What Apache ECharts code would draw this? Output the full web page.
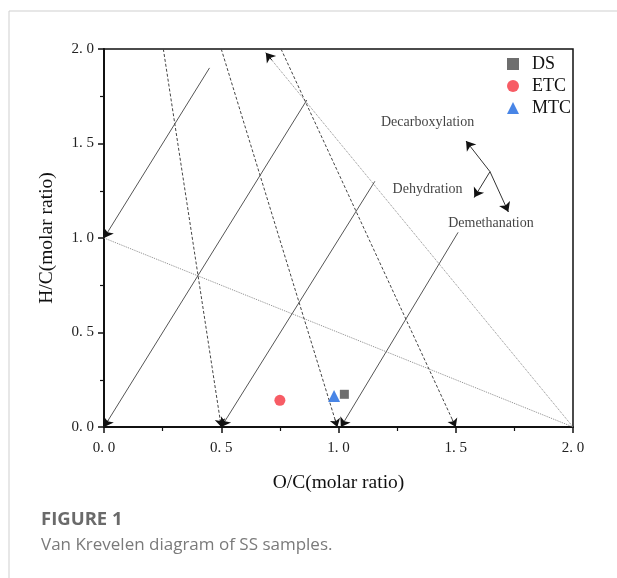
<!DOCTYPE html>
<html>
<head>
<meta charset="utf-8">
<script src="https://cdn.jsdelivr.net/npm/echarts@6/dist/echarts.min.js"></script>
<style>
  html, body { margin: 0; padding: 0; background: #fff; }
  #chart { width: 617px; height: 578px; }
</style>
</head>
<body>
<div id="chart"></div>
<script>
// 样品点 [O/C, H/C]
const dsPoints = [[1.025, 0.173]];
const etcPoints = [[0.75, 0.141]];
const mtcPoints = [[0.981, 0.164]];

// 脱水线（实线，斜率 2），[x1, y1, x2, y2]，终点带箭头
const dehydrationLines = [
  [0.45, 1.90, 0.0, 1.0],
  [0.865, 1.73, 0.0, 0.0],
  [1.155, 1.30, 0.5, 0.0],
  [1.51, 1.03, 1.01, 0.0]
];
// 脱甲烷线（虚线）
const demethanationLines = [
  [0.253, 2.0, 0.5, 0.0],
  [0.5, 2.0, 0.995, 0.0],
  [0.755, 2.0, 1.5, 0.0]
];
// 脱羧线（点线）
const decarbArrowLines = [[2.0, 0.0, 0.69, 1.98]];
const decarbPlainLines = [[0.0, 1.0, 2.0, 0.0]];

// 右上角示意箭头：中心点与三个方向
const insetCenter = [1.646, 1.351];
const insetTips = [[1.544, 1.513], [1.579, 1.215], [1.724, 1.139]];
const insetLabels = [
  ['Decarboxylation', 1.38, 1.61],
  ['Dehydration', 1.38, 1.26],
  ['Demethanation', 1.65, 1.08]
];

const axisTicks = [0, 0.5, 1.0, 1.5, 2.0];

const SERIF = '"Liberation Serif", "Times New Roman", serif';

function toMarkLine(list) {
  return list.map(l => [{ coord: [l[0], l[1]] }, { coord: [l[2], l[3]] }]);
}

// 箭头：沿线末端取一小段，单独用黑色画
function arrowHeads(list) {
  return list.map(l => [
    { coord: [l[2] + (l[0] - l[2]) * 0.02, l[3] + (l[1] - l[3]) * 0.02] },
    { coord: [l[2], l[3]] }
  ]);
}

function lineSeries(list, style) {
  return {
    type: 'line', data: [], silent: true,
    markLine: {
      silent: true, animation: false,
      symbol: ['none', 'none'],
      label: { show: false },
      emphasis: { disabled: true },
      lineStyle: style,
      data: toMarkLine(list)
    }
  };
}

function arrowSeries(list, size) {
  return {
    type: 'line', data: [], silent: true, z: 4,
    markLine: {
      silent: true, animation: false,
      symbol: ['none', 'arrow'], symbolSize: size,
      label: { show: false },
      emphasis: { disabled: true },
      lineStyle: { type: 'solid', color: '#111', width: 1 },
      data: arrowHeads(list)
    }
  };
}

const tickFmt = v => axisTicks.indexOf(v) >= 0 ? v.toFixed(1).replace('.', '. ') : '';
const insetLines = insetTips.map(t => [insetCenter[0], insetCenter[1], t[0], t[1]]);

const chart = echarts.init(document.getElementById('chart'));
chart.setOption({
  animation: false,
  grid: {
    left: 104, right: 44, top: 49, bottom: 151,
    show: true, borderColor: '#111', borderWidth: 1.5, backgroundColor: 'transparent'
  },
  xAxis: {
    type: 'value', min: 0, max: 2, interval: 0.5,
    name: 'O/C(molar ratio)', nameLocation: 'middle', nameGap: 46,
    nameTextStyle: { fontFamily: SERIF, fontSize: 19.5, color: '#111' },
    axisLine: { show: true, onZero: false, lineStyle: { color: '#111', width: 2 } },
    axisTick: { show: true, inside: false, length: 6, lineStyle: { color: '#111', width: 1.5 } },
    minorTick: { show: true, splitNumber: 2, length: 4, lineStyle: { color: '#111', width: 1.2 } },
    splitLine: { show: false },
    axisLabel: { margin: 14, fontFamily: SERIF, fontSize: 15, color: '#222', formatter: tickFmt }
  },
  yAxis: {
    type: 'value', min: 0, max: 2, interval: 0.5,
    name: 'H/C(molar ratio)', nameLocation: 'middle', nameGap: 47, nameRotate: 90,
    nameTextStyle: { fontFamily: SERIF, fontSize: 19.5, color: '#111' },
    axisLine: { show: true, onZero: false, lineStyle: { color: '#111', width: 2 } },
    axisTick: { show: true, inside: false, length: 6, lineStyle: { color: '#111', width: 1.5 } },
    minorTick: { show: true, splitNumber: 2, length: 4, lineStyle: { color: '#111', width: 1.2 } },
    splitLine: { show: false },
    axisLabel: { margin: 10, fontFamily: SERIF, fontSize: 15, color: '#222', formatter: tickFmt }
  },
  legend: {
    orient: 'vertical', left: 502, top: 50,
    itemWidth: 12, itemHeight: 12, itemGap: 4,
    textStyle: { fontFamily: SERIF, fontSize: 18, color: '#111', padding: [0, 0, 0, 8] },
    data: ['DS', 'ETC', 'MTC']
  },
  graphic: [
    { type: 'line', shape: { x1: 9, y1: 11, x2: 617, y2: 11 }, style: { stroke: '#cfcfcf', lineWidth: 1 } },
    { type: 'line', shape: { x1: 9, y1: 11, x2: 9, y2: 578 }, style: { stroke: '#cfcfcf', lineWidth: 1 } },
    { type: 'text', left: 41, top: 510, style: { text: 'FIGURE 1', fontFamily: '"Open Sans", sans-serif', fontWeight: 'bold', fontSize: 18.5, fill: '#6a6a6a' } },
    { type: 'text', left: 41, top: 537, style: { text: 'Van Krevelen diagram of SS samples.', fontFamily: '"Open Sans", sans-serif', fontSize: 17, fill: '#7a7a7a' } }
  ],
  series: [
    lineSeries(decarbPlainLines, { type: 'dotted', color: '#8a8a8a', width: 1 }),
    lineSeries(decarbArrowLines, { type: 'dotted', color: '#8a8a8a', width: 1 }),
    lineSeries(demethanationLines, { type: [3, 2], color: '#444', width: 1 }),
    lineSeries(dehydrationLines, { type: 'solid', color: '#555', width: 1 }),
    lineSeries(insetLines, { type: 'solid', color: '#333', width: 1 }),
    arrowSeries(decarbArrowLines, 9),
    arrowSeries(demethanationLines, 8),
    arrowSeries(dehydrationLines, 9),
    arrowSeries(insetLines, 9),
    {
      type: 'scatter', silent: true, symbolSize: 1,
      itemStyle: { color: 'transparent' },
      label: {
        show: true, position: 'inside', fontFamily: SERIF, fontSize: 14, color: '#111',
        formatter: p => p.data[2]
      },
      data: insetLabels.map(d => [d[1], d[2], d[0]])
    },
    { name: 'DS', type: 'scatter', symbol: 'rect', symbolSize: 9, itemStyle: { color: '#4a4a4a' }, data: dsPoints, z: 5 },
    { name: 'ETC', type: 'scatter', symbol: 'circle', symbolSize: 11, itemStyle: { color: '#f5333f' }, data: etcPoints, z: 5 },
    { name: 'MTC', type: 'scatter', symbol: 'triangle', symbolSize: 12, itemStyle: { color: '#1a66e0' }, data: mtcPoints, z: 5 }
  ]
});
</script>
</body>
</html>
